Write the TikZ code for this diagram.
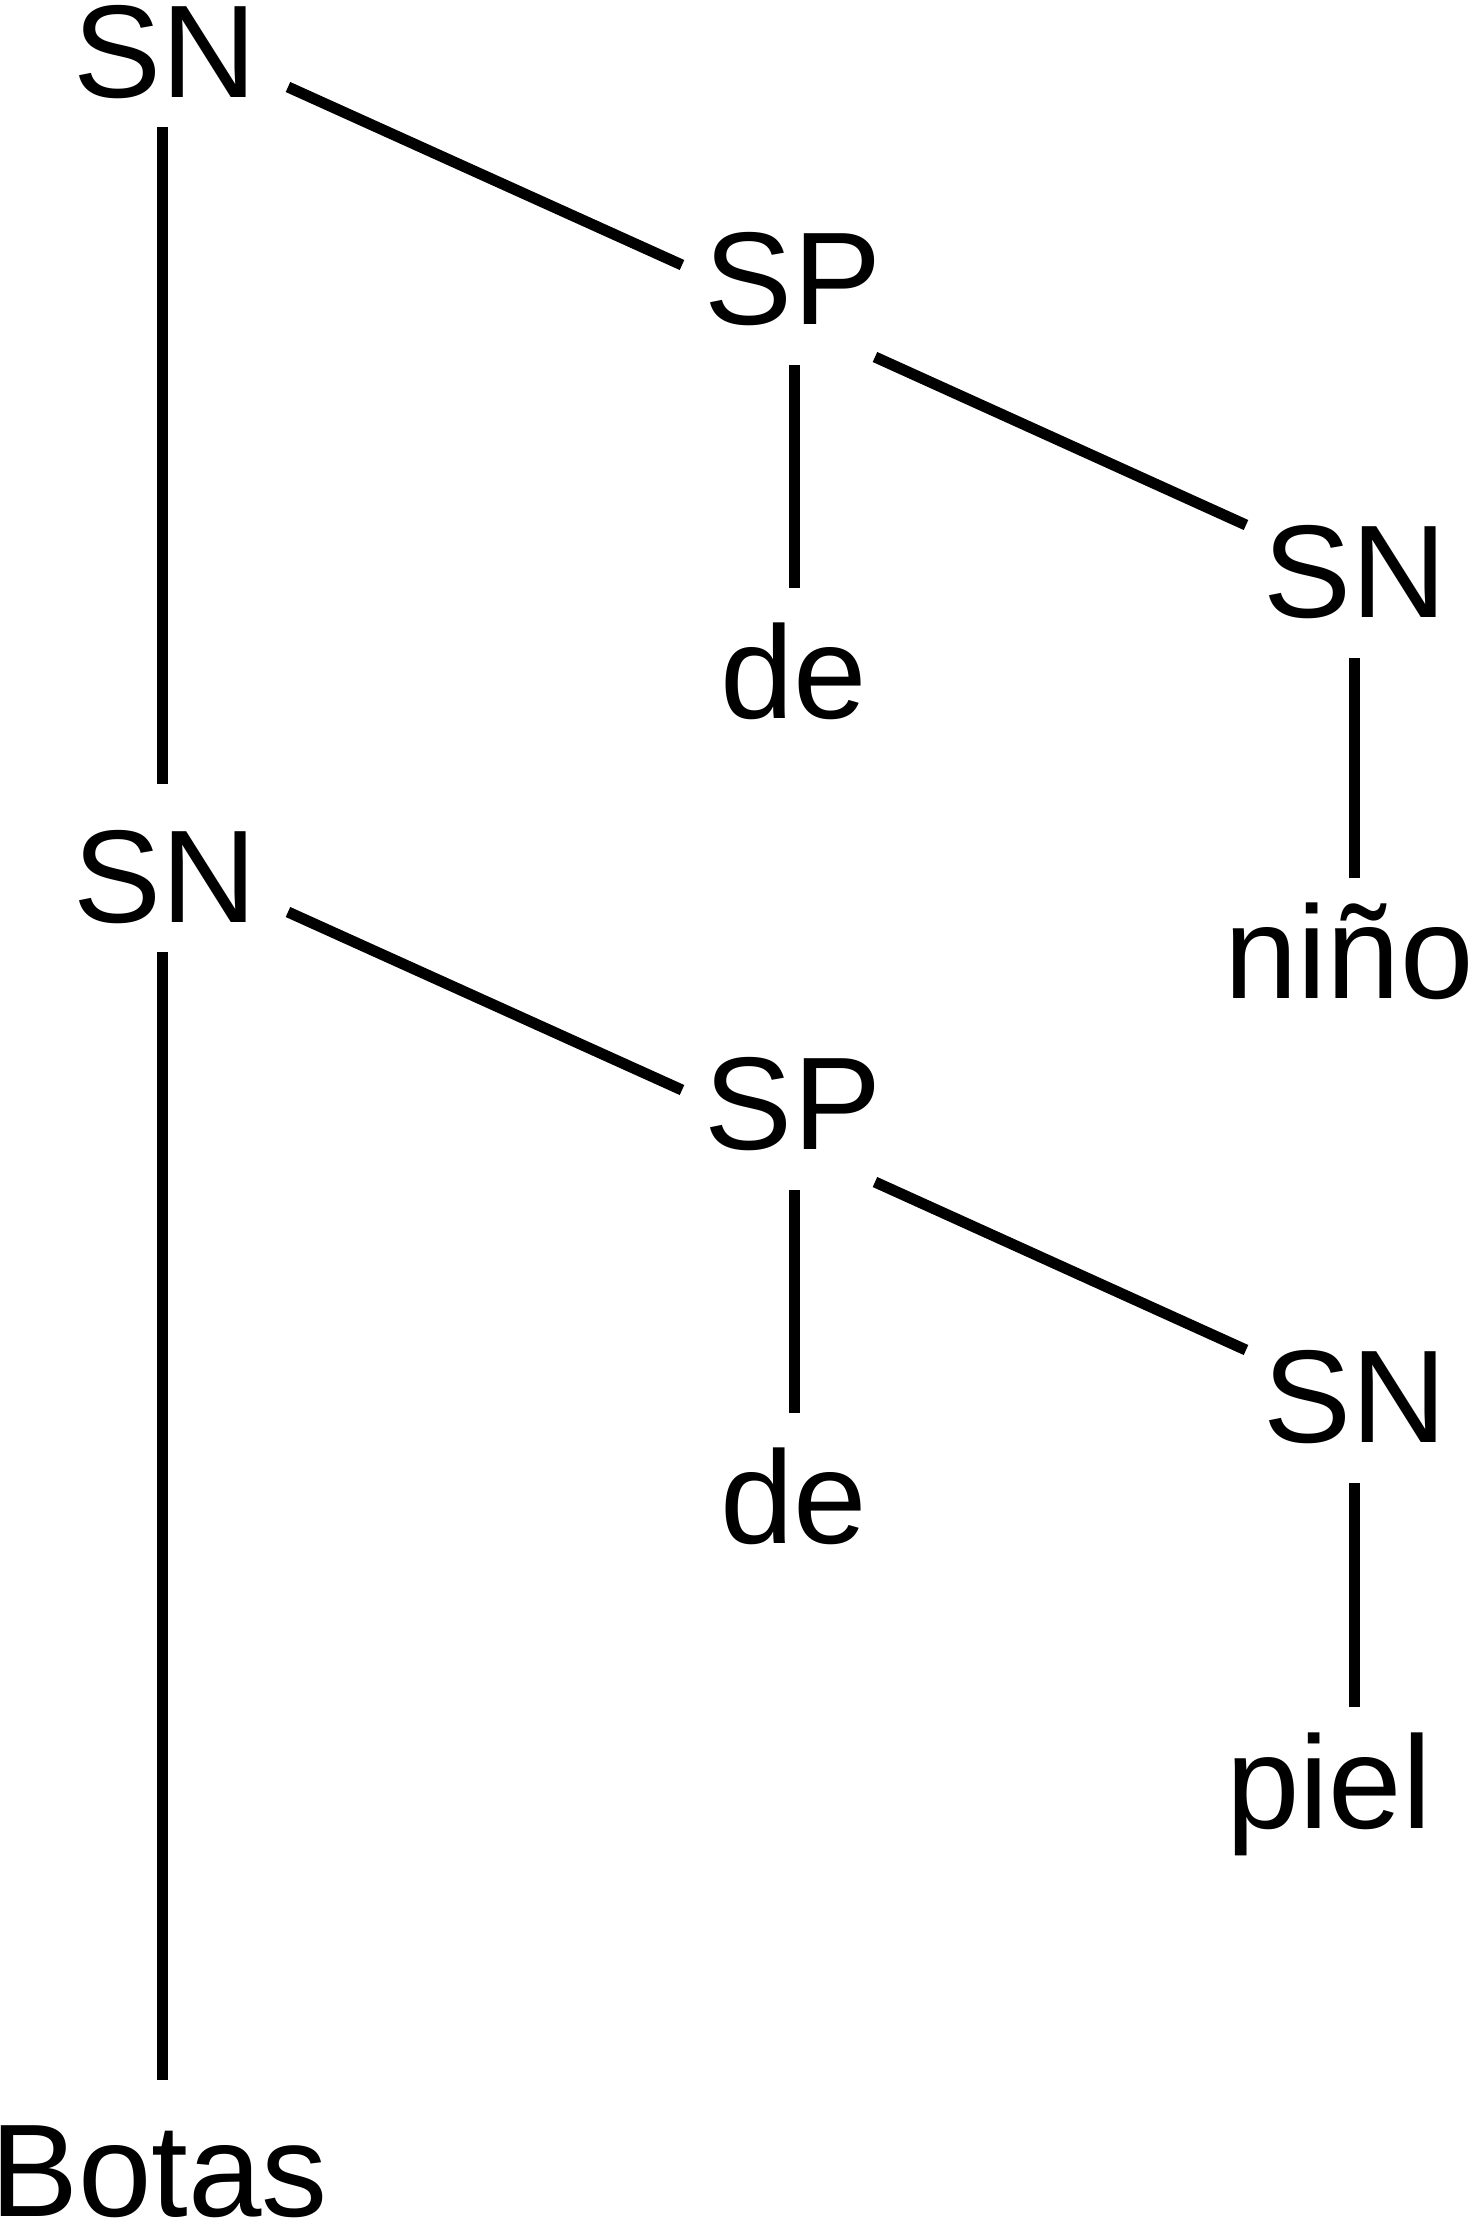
\documentclass[tikz,border=0pt]{standalone}
\usepackage{fontspec}
\setmainfont{Liberation Sans}
\usetikzlibrary{calc}
\begin{document}
\begin{tikzpicture}[x=0.5pt,y=-0.5pt,
  cat/.style={inner sep=0pt,anchor=base,font=\fontsize{66}{79}\selectfont},
  branch/.style={line width=5.5pt}]
\useasboundingbox (0,0) rectangle (1472,2223);

% Upper phrase
\node[cat] (sn1) at (165,97) {SN};
\node[cat] (sp1) at (793,324) {SP};
\node[cat] (de1) at (794,718) {de};
\node[cat] (snA) at (1355,617) {SN};
\node[cat] (nino) at (1349,998) {niño};

% Lower phrase
\node[cat] (sn2) at (165,922) {SN};
\node[cat] (sp2) at (793,1149) {SP};
\node[cat] (de2) at (794,1543) {de};
\node[cat] (snB) at (1355,1442) {SN};
\node[cat] (piel) at (1329,1828) {piel};

% Head noun
\node[cat] (botas) at (159,2216) {Botas};

% Branches of the upper phrase
\draw[branch] ($(sn1.base)+(-3,30)$) -- ($(sn2.base)+(-3,-138)$);
\draw[branch] ($(sn1.base)+(123,-10)$) -- ($(sp1.base)+(-111,-59)$);
\draw[branch] ($(sp1.base)+(1,41)$) -- ($(de1.base)+(0,-130)$);
\draw[branch] ($(sp1.base)+(82,33)$) -- ($(snA.base)+(-109,-92)$);
\draw[branch] ($(snA.base)+(-1,41)$) -- ($(nino.base)+(5,-120)$);

% Branches of the lower phrase
\draw[branch] ($(sn2.base)+(-3,30)$) -- ($(botas.base)+(3,-136)$);
\draw[branch] ($(sn2.base)+(123,-10)$) -- ($(sp2.base)+(-111,-59)$);
\draw[branch] ($(sp2.base)+(1,41)$) -- ($(de2.base)+(0,-130)$);
\draw[branch] ($(sp2.base)+(82,33)$) -- ($(snB.base)+(-109,-92)$);
\draw[branch] ($(snB.base)+(-1,41)$) -- ($(piel.base)+(25,-121)$);

\end{tikzpicture}
\end{document}
